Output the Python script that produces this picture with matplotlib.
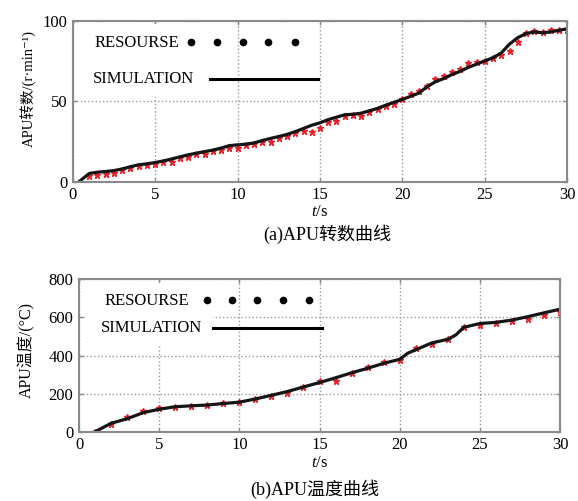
import matplotlib
matplotlib.use("Agg")
import matplotlib.pyplot as plt
from matplotlib.patches import Rectangle

plt.rcParams['font.family'] = ['Liberation Serif', 'Noto Sans CJK SC', 'DejaVu Sans']
plt.rcParams['mathtext.fontset'] = 'custom'
plt.rcParams['mathtext.rm'] = 'Liberation Serif'
plt.rcParams['mathtext.it'] = 'Liberation Serif:italic'

# (a) APU speed
t_sim_a = [0.4, 1.0, 1.5, 2.0, 2.5, 3.0, 3.5, 4.0, 4.5, 5.0, 5.5, 6.0, 6.5, 7.0, 7.5,
           8.0, 8.5, 9.0, 9.5, 10.0, 10.5, 11.0, 11.5, 12.0, 12.5, 13.0, 13.5, 14.0,
           14.5, 15.0, 15.5, 16.0, 16.5, 17.0, 17.5, 18.0, 18.5, 19.0, 19.5, 20.0,
           20.5, 21.0, 21.5, 22.0, 22.5, 23.0, 23.5, 24.0, 24.5, 25.0, 25.5, 26.0,
           26.5, 27.0, 27.5, 28.0, 28.5, 29.0, 29.5, 30.0]
speed_sim = [0, 5.0, 5.8, 6.2, 6.8, 7.8, 9.2, 10.4, 11.0, 11.8, 12.8, 14.0, 15.3, 16.6,
             17.6, 18.6, 19.5, 20.8, 22.3, 22.8, 23.2, 24.0, 25.5, 26.8, 28.0, 29.3,
             31.0, 33.0, 35.0, 36.5, 38.5, 40.0, 41.5, 41.8, 42.5, 44.0, 45.5, 47.5,
             49.3, 51.0, 53.0, 55.0, 59.0, 62.0, 64.0, 66.5, 68.5, 71.0, 73.0, 75.0,
             77.0, 80.0, 85.5, 89.5, 92.0, 93.0, 92.5, 93.0, 94.0, 95.0]
t_res_a = [1.0, 1.5, 2.0, 2.5, 3.0, 3.5, 4.0, 4.5, 5.0, 5.5, 6.0, 6.5, 7.0, 7.5, 8.0,
           8.5, 9.0, 9.5, 10.0, 10.5, 11.0, 11.5, 12.0, 12.5, 13.0, 13.5, 14.0, 14.5,
           15.0, 15.5, 16.0, 16.5, 17.0, 17.5, 18.0, 18.5, 19.0, 19.5, 20.0, 20.5,
           21.0, 21.5, 22.0, 22.5, 23.0, 23.5, 24.0, 24.5, 25.0, 25.5, 26.0, 26.5,
           27.0, 27.5, 28.0, 28.5, 29.0, 29.5, 30.0]
speed_res = [3.5, 4.0, 4.8, 5.0, 7.0, 8.5, 9.5, 10.0, 10.8, 12.0, 12.3, 14.5, 15.5,
             17.0, 17.4, 19.0, 19.5, 21.0, 21.0, 22.5, 23.5, 24.5, 24.5, 27.0, 28.5,
             30.0, 31.5, 30.5, 33.5, 37.0, 37.5, 41.0, 41.5, 40.6, 43.5, 45.0, 47.0,
             48.5, 51.5, 54.5, 56.5, 59.5, 63.5, 65.5, 68.0, 70.0, 73.5, 74.5, 75.0,
             76.5, 78.5, 81.0, 86.5, 92.5, 93.5, 93.0, 94.0, 94.5, 94.0]

# (b) APU temperature
t_sim_b = [1.0, 2.0, 3.0, 4.0, 5.0, 6.0, 7.0, 8.0, 9.0, 10.0, 11.0, 12.0, 13.0, 14.0,
           15.0, 16.0, 17.0, 18.0, 19.0, 20.0, 20.5, 21.0, 22.0, 23.0, 23.5, 24.0,
           25.0, 26.0, 27.0, 28.0, 29.0, 30.0]
temp_sim = [0, 44, 68, 100, 118, 131, 136, 140, 148, 155, 172, 191, 211, 235, 258, 283,
            309, 333, 359, 380, 412, 430, 466, 485, 508, 548, 568, 574, 586, 604, 624, 643]
t_res_b = [1, 2, 3, 4, 5, 6, 7, 8, 9, 10, 11, 12, 13, 14, 15, 16, 17, 18, 19, 20, 21,
           22, 23, 24, 25, 26, 27, 28, 29, 30]
temp_res = [0, 42, 78, 108, 125, 132, 136, 140, 153, 158, 170, 186, 203, 233, 264, 268,
            307, 342, 366, 378, 440, 460, 485, 548, 560, 572, 582, 590, 611, 626]

x_ticks = [0, 5, 10, 15, 20, 25, 30]
legend_labels = ['RESOURSE', 'SIMULATION']


def style_axes(ax, yticks):
    ax.set_xlim(0, 30)
    ax.set_ylim(yticks[0], yticks[-1])
    ax.set_xticks(x_ticks)
    ax.set_yticks(yticks)
    ax.grid(True, linestyle=':', color='#999999', linewidth=1.0)
    ax.tick_params(direction='in', length=3, width=1, color='#888888',
                   top=True, right=True, labelsize=12, pad=4)
    for s in ax.spines.values():
        s.set_color('#8a8a8a')
        s.set_linewidth(1.5)


def draw_legend(ax, box, txt_pos, dot_x, dot_y, line_x, line_y):
    # white patch behind the legend hides the grid, as in the original
    ax.add_patch(Rectangle((box[0], box[1]), box[2], box[3], transform=ax.transAxes,
                           facecolor='white', edgecolor='none', zorder=1.6))
    ax.text(txt_pos[0][0], txt_pos[0][1], legend_labels[0], transform=ax.transAxes,
            fontsize=12, va='center', ha='left', zorder=3)
    ax.text(txt_pos[1][0], txt_pos[1][1], legend_labels[1], transform=ax.transAxes,
            fontsize=12, va='center', ha='left', zorder=3)
    ax.plot(dot_x, [dot_y] * len(dot_x), 'o', color='black', ms=4.5,
            transform=ax.transAxes, zorder=3)
    ax.plot(line_x, [line_y, line_y], '-', color='black', lw=2.2,
            transform=ax.transAxes, zorder=3)


fig = plt.figure(figsize=(5.78, 5.01), dpi=100)

ax1 = fig.add_axes([0.1258, 0.6377, 0.8557, 0.321])
style_axes(ax1, [0, 50, 100])
ax1.plot(t_res_a, speed_res, '*', color='#e8202a', ms=4.5, mec='#e8202a', zorder=1.9)
ax1.plot(t_sim_a, speed_sim, '-', color='#151515', lw=2.3, zorder=2)
ax1.set_xlabel('$t$/s', fontsize=12, labelpad=1)
ax1.set_ylabel('APU转数/(r·min⁻¹)', fontsize=10.5)
ax1.yaxis.set_label_coords(-0.074, 0.58)
draw_legend(ax1, (0.008, 0.525, 0.26, 0.455),
            [(0.045, 0.861), (0.040, 0.637)],
            [0.2385, 0.291, 0.3437, 0.3955, 0.4495], 0.869,
            [0.2785, 0.4965], 0.637)
fig.text(0.567, 0.533, '(a)APU转数曲线', fontsize=13, ha='center', va='center')

ax2 = fig.add_axes([0.1367, 0.1383, 0.8322, 0.3042])
style_axes(ax2, [0, 200, 400, 600, 800])
ax2.plot(t_res_b, temp_res, '*', color='#e8202a', ms=4.5, mec='#e8202a', zorder=1.9)
ax2.plot(t_sim_b, temp_sim, '-', color='#151515', lw=2.3, zorder=2)
ax2.set_xlabel('$t$/s', fontsize=12, labelpad=1)
ax2.set_ylabel('APU温度/(°C)', fontsize=11.5)
ax2.yaxis.set_label_coords(-0.092, 0.536)
draw_legend(ax2, (0.012, 0.56, 0.267, 0.415),
            [(0.052, 0.856), (0.045, 0.678)],
            [0.2655, 0.3175, 0.3694, 0.4241, 0.478], 0.864,
            [0.279, 0.5046], 0.678)
fig.text(0.545, 0.024, '(b)APU温度曲线', fontsize=13, ha='center', va='center')

fig.savefig('out.png', dpi=100)
